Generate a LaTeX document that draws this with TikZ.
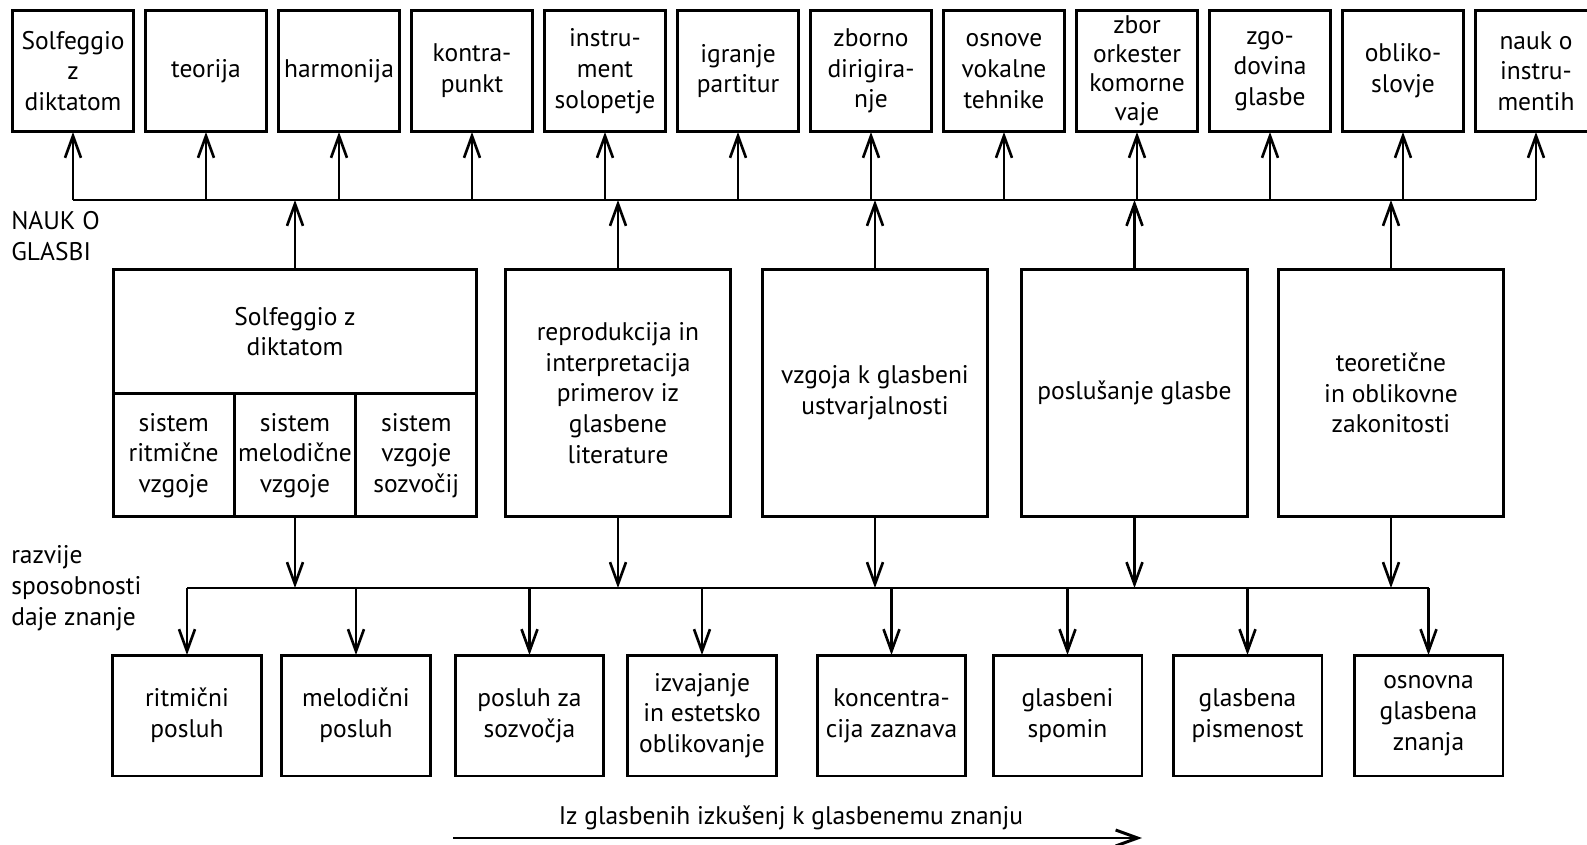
\documentclass[tikz,border=0pt]{standalone}
\usepackage{fontspec}
\setmainfont{PT Sans}
\usetikzlibrary{arrows.meta,positioning}

\tikzset{
  box/.style={draw, line width=1.7pt, align=center, inner sep=0pt, outer sep=0pt},
  topbox/.style={box, minimum width=2.42cm, minimum height=2.44cm},
  midbox/.style={box, minimum width=4.52cm, minimum height=4.96cm},
  subbox/.style={box, minimum width=2.427cm, minimum height=2.46cm},
  lowbox/.style={box, minimum width=2.98cm, minimum height=2.42cm},
  arr/.style={-{Straight Barb[length=4.4mm,width=3.2mm]}},
  side/.style={align=left, anchor=west, inner sep=0pt}
}

\begin{document}
\begin{tikzpicture}[x=0.02cm, y=-0.02cm, line width=1.5pt, font=\fontsize{14.5}{17.5}\selectfont]
    \useasboundingbox (0,0) rectangle (1587,845);

    % subjects
    \node[topbox] (t1) at (73,71) {Solfeggio\\z\\diktatom};
    \node[topbox] (t2) at (206,71) {teorija};
    \node[topbox] (t3) at (339,71) {harmonija};
    \node[topbox] (t4) at (472,71) {kontra-\\punkt};
    \node[topbox] (t5) at (605,71) {instru-\\ment\\solopetje};
    \node[topbox] (t6) at (738,71) {igranje\\partitur};
    \node[topbox] (t7) at (871,71) {zborno\\dirigira-\\nje};
    \node[topbox] (t8) at (1004,71) {osnove\\vokalne\\tehnike};
    \node[topbox, font=\fontsize{14.5}{16.5}\selectfont] (t9) at (1137,71) {zbor\\orkester\\komorne\\vaje};
    \node[topbox] (t10) at (1270,71) {zgo-\\dovina\\glasbe};
    \node[topbox] (t11) at (1403,71) {obliko-\\slovje};
    \node[topbox] (t12) at (1536,71) {nauk o\\instru-\\mentih};

    \node[side] (nauk) at (10,236) {NAUK O\\GLASBI};

    % areas
    \node[box, minimum width=7.28cm, minimum height=2.5cm] (mA) at (295,331.5) {Solfeggio z\\diktatom};
    \node[subbox, below=0pt of mA] (s2) {sistem\\melodične\\vzgoje};
    \node[subbox, left=0pt of s2] (s1) {sistem\\ritmične\\vzgoje};
    \node[subbox, right=0pt of s2] (s3) {sistem\\vzgoje\\sozvočij};
    \node[midbox] (mB) at (618,393) {reprodukcija in\\interpretacija\\primerov iz\\glasbene\\literature};
    \node[midbox] (mC) at (875,393) {vzgoja k glasbeni\\ustvarjalnosti};
    \node[midbox] (mD) at (1134.5,393) {poslušanje glasbe};
    \node[midbox] (mE) at (1391,393) {teoretične\\in oblikovne\\zakonitosti};

    \node[side] (razvije) at (10,588) {razvije\\sposobnosti\\daje znanje};

    % abilities
    \node[lowbox] (b1) at (187,715.5) {ritmični\\posluh};
    \node[lowbox] (b2) at (356,715.5) {melodični\\posluh};
    \node[lowbox] (b3) at (529.5,715.5) {posluh za\\sozvočja};
    \node[lowbox] (b4) at (702,715.5) {izvajanje\\in estetsko\\oblikovanje};
    \node[lowbox] (b5) at (891.5,715.5) {koncentra-\\cija zaznava};
    \node[lowbox] (b6) at (1067.5,715.5) {glasbeni\\spomin};
    \node[lowbox] (b7) at (1247.5,715.5) {glasbena\\pismenost};
    \node[lowbox] (b8) at (1428.5,715.5) {osnovna\\glasbena\\znanja};

    \node (flow) at (791,818) {Iz glasbenih izkušenj k glasbenemu znanju};
    \coordinate (fs) at (453,838);
    \coordinate (fe) at (1142,838);

    \coordinate (tbus) at (0,200);
    \coordinate (bbus) at (0,588);

    % upper bus
    \draw (t1.south |- tbus) -- (t12.south |- tbus);
    \draw[arr] (t1.south |- tbus) -- (t1.south);
    \draw[arr] (t2.south |- tbus) -- (t2.south);
    \draw[arr] (t3.south |- tbus) -- (t3.south);
    \draw[arr] (t4.south |- tbus) -- (t4.south);
    \draw[arr] (t5.south |- tbus) -- (t5.south);
    \draw[arr] (t6.south |- tbus) -- (t6.south);
    \draw[arr] (t7.south |- tbus) -- (t7.south);
    \draw[arr] (t8.south |- tbus) -- (t8.south);
    \draw[arr] (t9.south |- tbus) -- (t9.south);
    \draw[arr] (t10.south |- tbus) -- (t10.south);
    \draw[arr] (t11.south |- tbus) -- (t11.south);
    \draw[arr] (t12.south |- tbus) -- (t12.south);

    \draw[arr] (mA.north) -- (mA.north |- tbus);
    \draw[arr] (mB.north) -- (mB.north |- tbus);
    \draw[arr] (mC.north) -- (mC.north |- tbus);
    \draw[arr] (mD.north) -- (mD.north |- tbus);
    \draw[arr] (mE.north) -- (mE.north |- tbus);

    % lower bus
    \draw[arr] (s2.south) -- (s2.south |- bbus);
    \draw[arr] (mB.south) -- (mB.south |- bbus);
    \draw[arr] (mC.south) -- (mC.south |- bbus);
    \draw[arr] (mD.south) -- (mD.south |- bbus);
    \draw[arr] (mE.south) -- (mE.south |- bbus);

    \draw (b1.north |- bbus) -- (b8.north |- bbus);
    \draw[arr] (b1.north |- bbus) -- (b1.north);
    \draw[arr] (b2.north |- bbus) -- (b2.north);
    \draw[arr] (b3.north |- bbus) -- (b3.north);
    \draw[arr] (b4.north |- bbus) -- (b4.north);
    \draw[arr] (b5.north |- bbus) -- (b5.north);
    \draw[arr] (b6.north |- bbus) -- (b6.north);
    \draw[arr] (b7.north |- bbus) -- (b7.north);
    \draw[arr] (b8.north |- bbus) -- (b8.north);

    \draw[arr, line width=1.7pt] (fs) -- (fe);
\end{tikzpicture}
\end{document}
